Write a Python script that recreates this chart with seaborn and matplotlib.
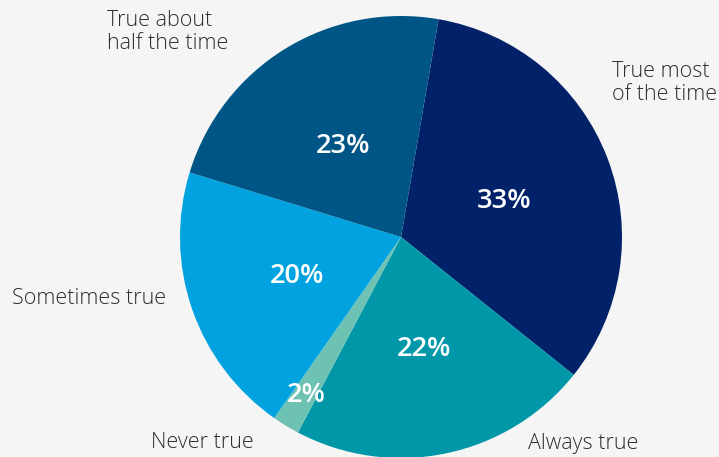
import matplotlib
matplotlib.use("Agg")
import matplotlib.pyplot as plt
import seaborn as sns
import numpy as np

sns.set_theme(style="white")
plt.rcParams["font.family"] = ["Open Sans", "DejaVu Sans"]

# Survey answer shares, in clockwise order from the top
categories = ["True most\nof the time", "Always true", "Never true",
              "Sometimes true", "True about\nhalf the time"]
shares = [33, 22, 2, 20, 23]
colors = ["#012169", "#0097A9", "#6DC2B4", "#00A3E0", "#005587"]

W, H = 719, 457
fig = plt.figure(figsize=(W / 100, H / 100), dpi=100, facecolor="#F5F5F5")
ax = fig.add_axes([0, 0, 1, 1])
ax.set_facecolor("#F5F5F5")

cx, cy, r = 401, H - 237, 221
wedges, _, pct_texts = ax.pie(
    shares, colors=colors, startangle=80.2, counterclock=False,
    center=(cx, cy), radius=r, autopct="%d%%", pctdistance=0.5,
    wedgeprops=dict(linewidth=0),
    textprops=dict(color="white", fontsize=19.5,
                   family=["Open Sans SemiBold", "Open Sans", "DejaVu Sans"],
                   fontweight=600),
)

# Percent labels sit at mid-slice; the thin "Never true" slice carries its
# label further out
for i, (w, t) in enumerate(zip(wedges, pct_texts)):
    mid = np.deg2rad((w.theta1 + w.theta2) / 2)
    dist = 0.82 if i == 2 else 0.5
    t.set_position((cx + dist * r * np.cos(mid),
                    cy + dist * r * np.sin(mid) - 3.5))

# Category labels around the pie
label_pos = [(612, 83, "left"), (528, 443, "left"), (151, 443, "left"),
             (12, 298, "left"), (107, 32, "left")]
for name, (x, y, ha) in zip(categories, label_pos):
    ax.text(x, H - y, name, ha=ha, va="center", fontsize=15.5,
            family=["Open Sans Light", "Open Sans", "DejaVu Sans"],
            color="#2E2E2E", fontweight="light", linespacing=1.15)

ax.set_xlim(0, W)
ax.set_ylim(0, H)
ax.set_aspect("equal")
ax.axis("off")

fig.savefig("out.png", dpi=100, facecolor=fig.get_facecolor())
